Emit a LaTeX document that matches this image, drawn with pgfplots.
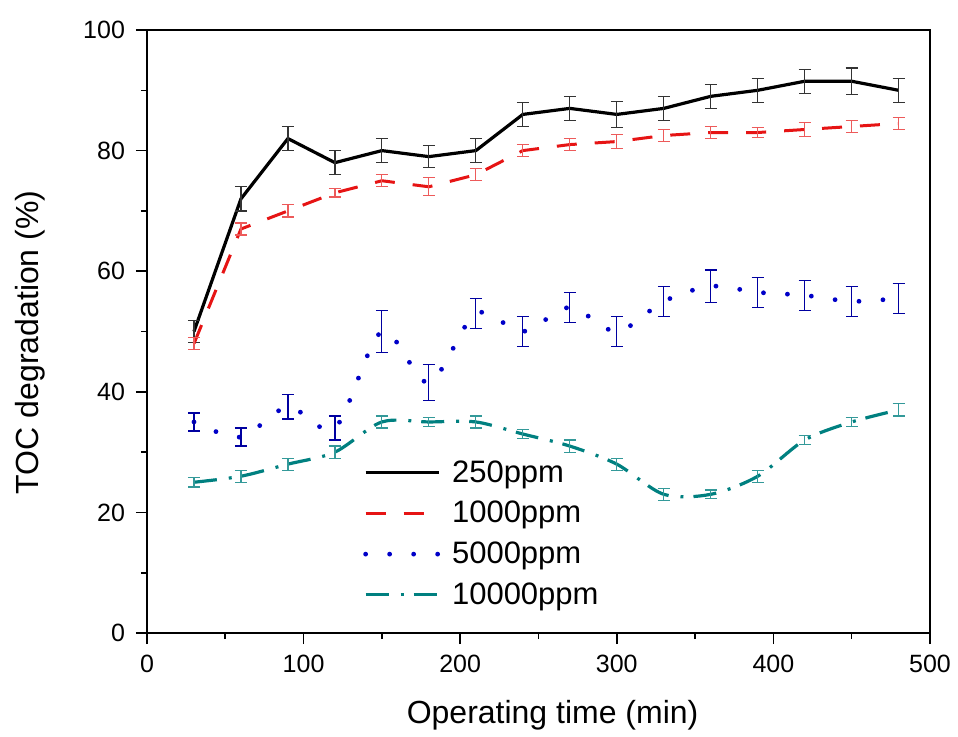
\documentclass[border=0pt]{standalone}
\usepackage{fontspec}
\setmainfont{Liberation Sans}
\usepackage{pgfplots}
\pgfplotsset{compat=1.18}

\definecolor{cteal}{RGB}{0,128,128}
\definecolor{cblue}{RGB}{0,0,200}
\definecolor{cred}{RGB}{230,20,20}

\begin{document}
\begin{tikzpicture}
\begin{axis}[
scale only axis,
width=391.5pt, height=301.5pt,
xmin=0, xmax=500, ymin=0, ymax=100,
xtick={0,100,...,500}, ytick={0,20,...,100},
minor x tick num=1, minor y tick num=1,
xtick pos=bottom, ytick pos=left,
tick align=outside,
major tick length=5.5pt, minor tick length=3pt,
axis line style={line width=0.8pt},
tick style={line width=0.8pt, black},
/pgf/number format/assume math mode=true,
tick label style={font=\fontsize{12.5}{14}\selectfont},
xticklabel style={yshift=-2pt},
yticklabel style={xshift=-2pt},
label style={font=\fontsize{16}{18}\selectfont},
xlabel={Operating time (min)},
ylabel={TOC degradation (\%)},
xlabel style={at={(axis description cs:0.518,-0.136)}, anchor=center},
ylabel style={at={(axis description cs:-0.149,0.482)}, anchor=center},
legend style={draw=none, fill=none, at={(axis cs:134,30)}, anchor=north west,
  font=\fontsize{15.5}{17}\selectfont, row sep=4pt},
legend cell align=left,
legend image code/.code={\draw[#1] (0pt,0pt) -- (36.5pt,0pt); \path (40pt,0pt);},
error bars/error mark options={line width=0.6pt, mark size=3pt, rotate=90},
]
\addplot[black, line width=1.6pt, error bars/.cd, y dir=both, y explicit,
  error bar style={black!80, line width=0.6pt}] coordinates {
(30,50) +- (0,1.8) (60,72) +- (0,2) (90,82) +- (0,2) (120,78) +- (0,2)
(150,80) +- (0,2) (180,79) +- (0,1.8) (210,80) +- (0,2) (240,86) +- (0,2)
(270,87) +- (0,2) (300,86) +- (0,2.2) (330,87) +- (0,2) (360,89) +- (0,2)
(390,90) +- (0,2) (420,91.5) +- (0,2) (450,91.5) +- (0,2.2) (480,90) +- (0,2)};
\addlegendentry{250ppm}
\addplot[cred, line width=1.5pt, dash pattern=on 10pt off 9pt,
  error bars/.cd, y dir=both, y explicit,
  error bar style={cred!70, line width=0.6pt, solid}] coordinates {
(30,48) +- (0,1) (60,67) +- (0,1) (90,70) +- (0,1) (120,73) +- (0,0.7)
(150,75) +- (0,1) (180,74) +- (0,1.5) (210,76) +- (0,1) (240,80) +- (0,1)
(270,81) +- (0,1) (300,81.5) +- (0,1.2) (330,82.5) +- (0,1) (360,83) +- (0,1)
(390,83) +- (0,0.8) (420,83.5) +- (0,1.2) (450,84) +- (0,1) (480,84.5) +- (0,1)};
\addlegendentry{1000ppm}
\addplot[cblue, line width=2.4pt, line cap=round, dash pattern=on 0pt off 12pt, smooth,
  error bars/.cd, y dir=both, y explicit,
  error bar style={cblue!80!black, line width=0.6pt, solid, line cap=butt}] coordinates {
(30,35) +- (0,1.5) (60,32.5) +- (0,1.5) (90,37.5) +- (0,2) (120,34) +- (0,2)
(150,50) +- (0,3.5) (180,41.5) +- (0,3) (210,53) +- (0,2.5) (240,50) +- (0,2.5)
(270,54) +- (0,2.5) (300,50) +- (0,2.5) (330,55) +- (0,2.5) (360,57.5) +- (0,2.7)
(390,56.5) +- (0,2.5) (420,56) +- (0,2.5) (450,55) +- (0,2.5) (480,55.5) +- (0,2.5)};
\addlegendentry{5000ppm}
\addplot[cteal, line width=1.6pt, dash pattern=on 11.5pt off 6pt on 1.5pt off 5pt, smooth,
  error bars/.cd, y dir=both, y explicit,
  error bar style={cteal!80, line width=0.6pt, solid}] coordinates {
(30,25) +- (0,0.8) (60,26) +- (0,1) (90,28) +- (0,1) (120,30) +- (0,1)
(150,35) +- (0,1) (180,35) +- (0,0.7) (210,35) +- (0,1) (240,33) +- (0,0.8)
(270,31) +- (0,1) (300,28) +- (0,1) (330,23) +- (0,1) (360,23) +- (0,0.7)
(390,26) +- (0,1) (420,32) +- (0,0.7) (450,35) +- (0,0.8) (480,37) +- (0,1)};
\addlegendentry{10000ppm}
\end{axis}
\path (current axis.south west) ++(-73.5pt,-48.5pt);
\path (current axis.north east) ++(14pt,15pt);
\end{tikzpicture}
\end{document}
